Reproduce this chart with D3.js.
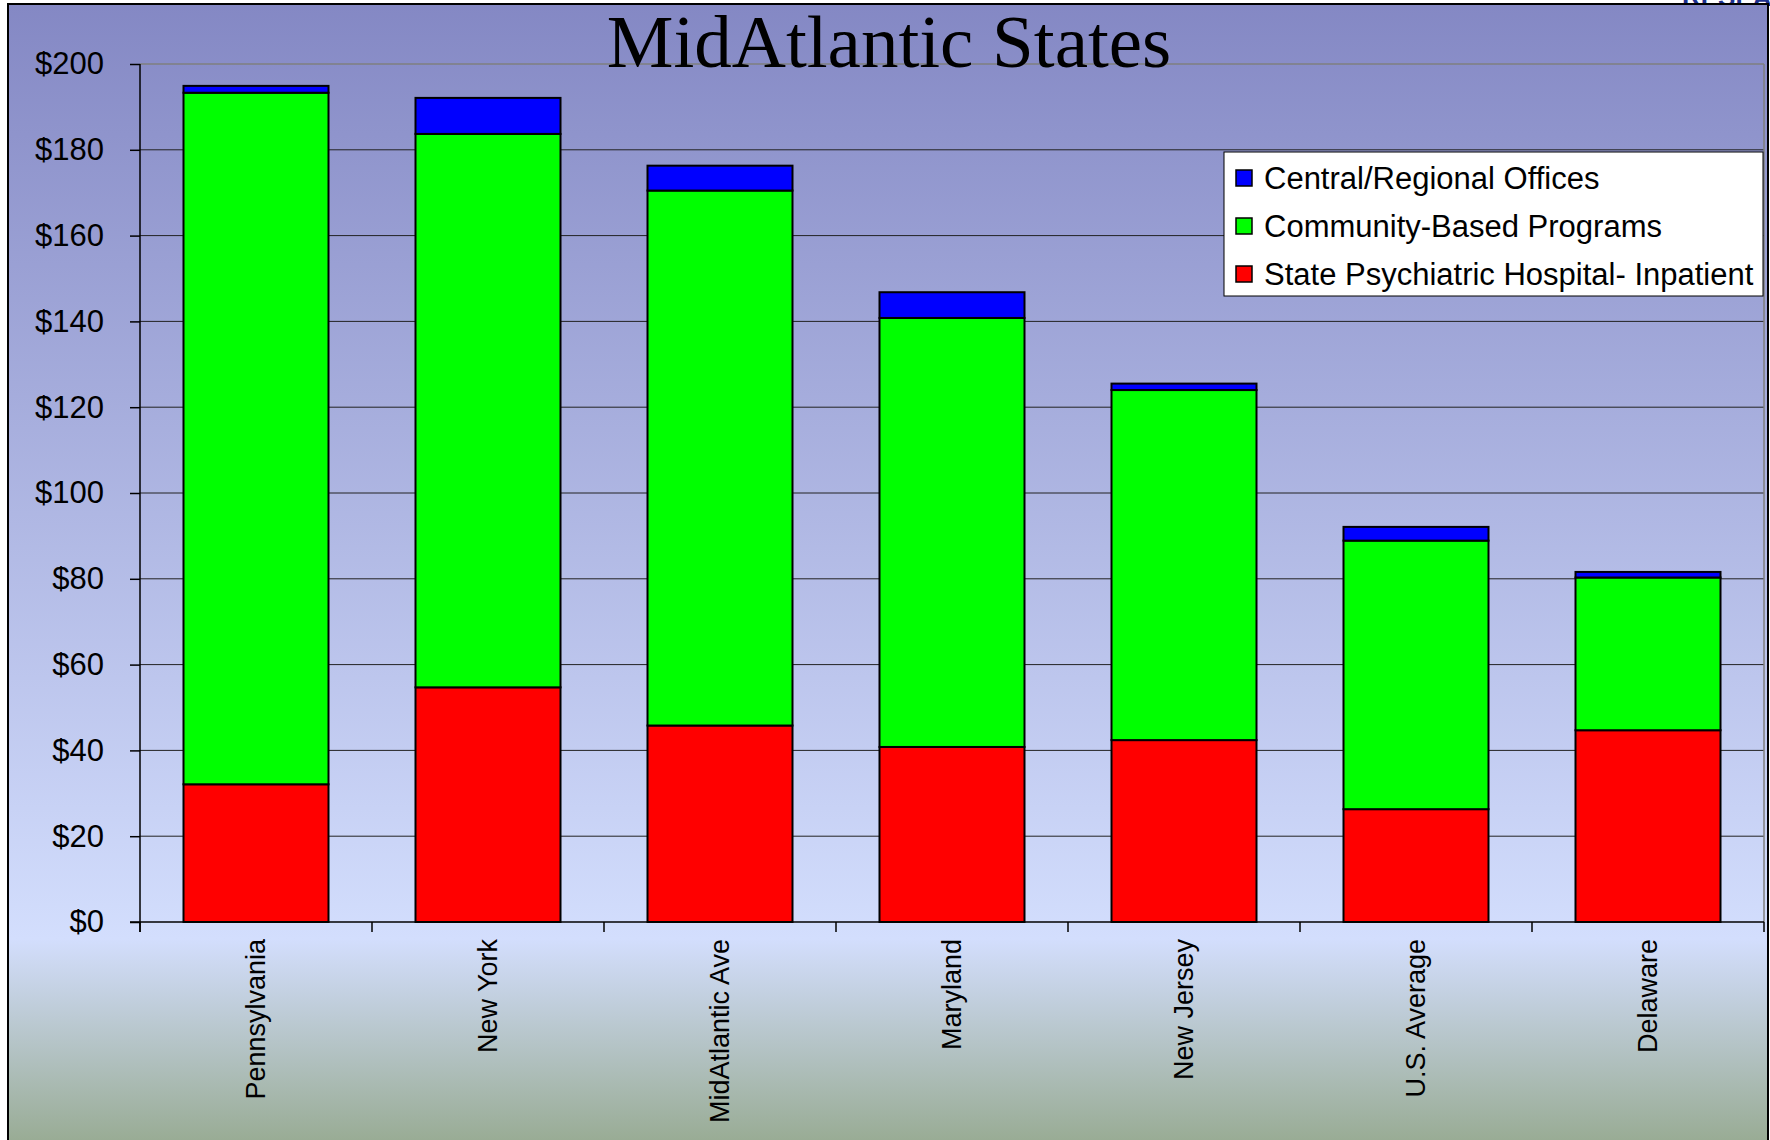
<!DOCTYPE html>
<html>
<head>
<meta charset="utf-8">
<script src="https://cdn.jsdelivr.net/npm/d3@7"></script>
<style>
  html, body { margin: 0; padding: 0; background: #ffffff; }
  svg { display: block; }
</style>
</head>
<body>
<div id="chart"></div>
<script>
// categories and series values (dollars)
const states = ["Pennsylvania", "New York", "MidAtlantic Ave", "Maryland", "New Jersey", "U.S. Average", "Delaware"];
const hospital = [32.1, 54.7, 45.8, 40.8, 42.4, 26.3, 44.7];
const community = [161.2, 129.0, 124.7, 100.0, 81.6, 62.6, 35.6];
const offices = [1.6, 8.4, 5.8, 6.0, 1.5, 3.2, 1.3];
const yTicks = [0, 20, 40, 60, 80, 100, 120, 140, 160, 180, 200];

const seriesNames = ["State Psychiatric Hospital- Inpatient", "Community-Based Programs", "Central/Regional Offices"];
const seriesColors = ["#ff0000", "#00ff00", "#0000ff"];

(function () {
  const W = 1770, H = 1140;
  const margin = { top: 64, right: 6, bottom: 218, left: 140 };
  const width = W - margin.left - margin.right;
  const height = H - margin.top - margin.bottom;

  const svg = d3.select("#chart").append("svg")
    .attr("width", W)
    .attr("height", H);

  // background gradient
  const defs = svg.append("defs");
  const grad = defs.append("linearGradient")
    .attr("id", "bg").attr("x1", 0).attr("y1", 0).attr("x2", 0).attr("y2", 1);
  grad.append("stop").attr("offset", "0%").attr("stop-color", "#8488c4");
  grad.append("stop").attr("offset", "82%").attr("stop-color", "#d3defd");
  grad.append("stop").attr("offset", "100%").attr("stop-color", "#98ab93");

  // small cut-off logo fragment above the frame (as in the source slide)
  svg.append("text")
    .attr("x", 1682).attr("y", 6)
    .attr("font-family", "Liberation Sans, Arial, sans-serif")
    .attr("font-weight", "bold")
    .attr("font-size", "26px")
    .attr("fill", "#1c2f8c")
    .text("RESEAR");

  svg.append("rect")
    .attr("x", 8).attr("y", 4)
    .attr("width", 1760).attr("height", H)
    .attr("fill", "url(#bg)")
    .attr("stroke", "#000").attr("stroke-width", 2);

  const g = svg.append("g").attr("transform", `translate(${margin.left},${margin.top})`);

  // table for stacking
  const table = states.map((s, i) => ({ state: s, hospital: hospital[i], community: community[i], offices: offices[i] }));
  const keys = ["hospital", "community", "offices"];
  const stacked = d3.stack().keys(keys)(table);

  const x = d3.scaleBand().domain(states).range([0, width]).paddingInner(0.375).paddingOuter(0.1875);
  const y = d3.scaleLinear().domain([0, 200]).range([height, 0]);

  // gridlines
  g.append("g")
    .selectAll("line")
    .data(yTicks.filter(d => d > 0))
    .join("line")
    .attr("x1", 0).attr("x2", width)
    .attr("y1", d => y(d)).attr("y2", d => y(d))
    .attr("stroke", d => d === 200 ? "#7f7f7f" : "#222")
    .attr("stroke-width", d => d === 200 ? 1.5 : 1);

  // right plot border
  g.append("line")
    .attr("x1", width).attr("x2", width)
    .attr("y1", 0).attr("y2", height)
    .attr("stroke", "#7f7f7f").attr("stroke-width", 1.5);

  // bars
  g.selectAll(".layer")
    .data(stacked)
    .join("g")
    .attr("fill", (d, i) => seriesColors[i])
    .selectAll("rect")
    .data(d => d)
    .join("rect")
    .attr("x", d => x(d.data.state))
    .attr("width", x.bandwidth())
    .attr("y", d => y(d[1]))
    .attr("height", d => y(d[0]) - y(d[1]))
    .attr("stroke", "#000")
    .attr("stroke-width", 2);

  // Y axis
  const yAxis = g.append("g")
    .call(d3.axisLeft(y).tickValues(yTicks).tickSize(10).tickPadding(26).tickFormat(d => "$" + d));
  yAxis.select(".domain").attr("stroke", "#000").attr("stroke-width", 1.5).attr("d", `M0,0V${height + 10}`);
  yAxis.selectAll(".tick line").attr("stroke", "#000").attr("stroke-width", 1.5);
  yAxis.selectAll("text")
    .attr("font-family", "Liberation Sans, Arial, sans-serif")
    .attr("font-size", "31px")
    .attr("fill", "#000");

  // X axis line and boundary ticks
  g.append("line")
    .attr("x1", -10).attr("x2", width)
    .attr("y1", height).attr("y2", height)
    .attr("stroke", "#000").attr("stroke-width", 1.5);

  const step = x.step();
  const bounds = d3.range(states.length + 1).map(i => i * step);
  g.append("g")
    .selectAll("line")
    .data(bounds)
    .join("line")
    .attr("x1", d => d).attr("x2", d => d)
    .attr("y1", height).attr("y2", height + 10)
    .attr("stroke", "#000").attr("stroke-width", 1.5);

  // category labels, rotated
  g.append("g")
    .selectAll("text")
    .data(states)
    .join("text")
    .attr("transform", d => `translate(${x(d) + x.bandwidth() / 2 + 9},${height + 17}) rotate(-90)`)
    .attr("text-anchor", "end")
    .attr("font-family", "Liberation Sans, Arial, sans-serif")
    .attr("font-size", "27px")
    .attr("fill", "#000")
    .text(d => d);

  // title
  svg.append("text")
    .attr("x", 889).attr("y", 67)
    .attr("text-anchor", "middle")
    .attr("font-family", "Liberation Serif, Times New Roman, serif")
    .attr("font-size", "75px")
    .attr("fill", "#000")
    .text("MidAtlantic States");

  // legend
  const legend = svg.append("g").attr("transform", "translate(1224,152)");
  legend.append("rect")
    .attr("width", 539).attr("height", 144)
    .attr("fill", "#fff")
    .attr("stroke", "#000").attr("stroke-width", 1);

  const legendOrder = [2, 1, 0];
  legendOrder.forEach((s, i) => {
    const row = legend.append("g").attr("transform", `translate(0,${26 + i * 48})`);
    row.append("rect")
      .attr("x", 12).attr("y", -8)
      .attr("width", 16).attr("height", 16)
      .attr("fill", seriesColors[s])
      .attr("stroke", "#000").attr("stroke-width", 1.5);
    row.append("text")
      .attr("x", 40).attr("y", 11)
      .attr("font-family", "Liberation Sans, Arial, sans-serif")
      .attr("font-size", "31px")
      .attr("fill", "#000")
      .text(seriesNames[s]);
  });
})();
</script>
</body>
</html>
